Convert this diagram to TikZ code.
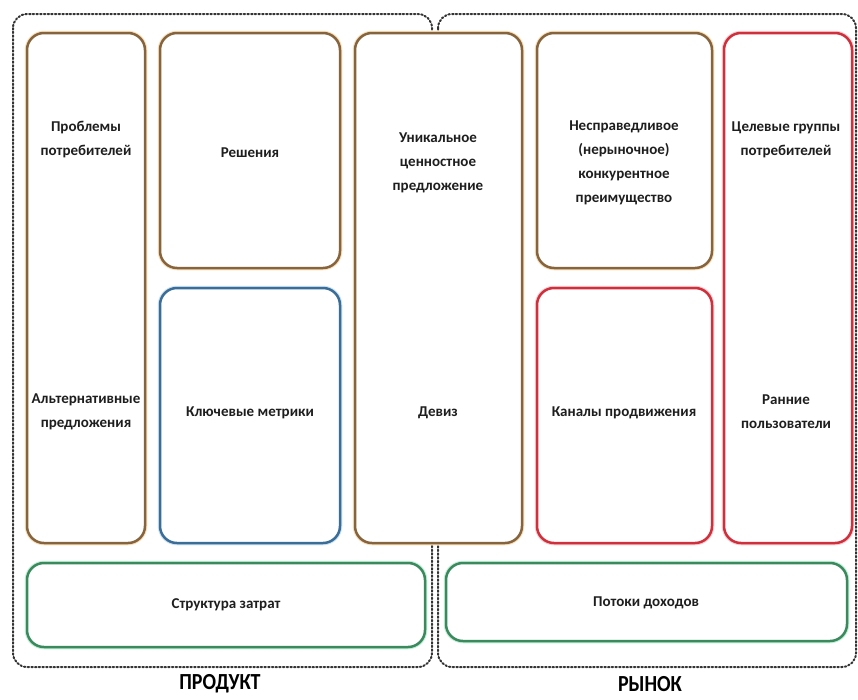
\documentclass[tikz,border=0pt]{standalone}
\usepackage{fontspec}
\setmainfont{Carlito}
\definecolor{brownc}{HTML}{86643E}
\definecolor{browng}{HTML}{FAE0BA}
\definecolor{bluec}{HTML}{3A6E99}
\definecolor{blueg}{HTML}{CFE4F4}
\definecolor{redc}{HTML}{D0303C}
\definecolor{redg}{HTML}{F8CDD1}
\definecolor{greenc}{HTML}{3B8A5E}
\definecolor{greeng}{HTML}{BFF0D6}
\definecolor{txtc}{HTML}{1E1E1E}
\definecolor{dotc}{HTML}{333333}
\tikzset{
  cell/.style={rectangle, rounded corners=17pt, inner sep=0pt, line width=2.5pt, fill=white},
  brownbox/.style={cell, draw=brownc, preaction={draw=browng, line width=4.5pt}},
  bluebox/.style={cell, draw=bluec, preaction={draw=blueg, line width=4.5pt}},
  redbox/.style={cell, draw=redc, preaction={draw=redg, line width=4.5pt}},
  greenbox/.style={cell, draw=greenc, preaction={draw=greeng, line width=4.5pt}},
  lbl/.style={text=txtc, align=center, font=\fontsize{15}{24}\selectfont\bfseries, inner sep=0pt},
  region/.style={draw=dotc, line width=2pt, dash pattern=on 1.5pt off 2.2pt, line cap=round, rounded corners=14pt},
  title/.style={text=black, font=\fontsize{20}{22}\selectfont\bfseries, inner sep=0pt}
}
\begin{document}
\begin{tikzpicture}[x=1pt,y=-1pt]
\fill[white] (0,0) rectangle (858,699);
\useasboundingbox (0,0) rectangle (858,699);

% dotted regions
\draw[region] (13,14) rectangle (432,667);
\draw[region] (438,14) rectangle (856,667);

% column boxes
\node[brownbox, minimum width=118pt, minimum height=510pt] (b1) at (86,288) {};
\node[brownbox, minimum width=180pt, minimum height=235pt] (b2) at (250,150.5) {};
\node[bluebox,  minimum width=180pt, minimum height=255pt] (b3) at (250,415.5) {};
\node[brownbox, minimum width=167pt, minimum height=510pt] (b4) at (438.5,288) {};
\node[brownbox, minimum width=175pt, minimum height=235pt] (b5) at (624.5,150.5) {};
\node[redbox,   minimum width=175pt, minimum height=255pt] (b6) at (624.5,415.5) {};
\node[redbox,   minimum width=128pt, minimum height=510pt] (b7) at (788,288) {};
\node[greenbox, minimum width=398pt, minimum height=84pt] (g1) at (226,605) {};
\node[greenbox, minimum width=401pt, minimum height=78pt] (g2) at (646.5,602) {};

% texts
\node[lbl] (t1) at (86,140) {Проблемы\\потребителей};
\node[lbl] (t2) at (86,412) {Альтернативные\\предложения};
\node[lbl] (t3) at (250,153) {Решения};
\node[lbl] (t4) at (250,413) {Ключевые метрики};
\node[lbl] (t5) at (438,163) {Уникальное\\ценностное\\предложение};
\node[lbl] (t6) at (438,413) {Девиз};
\node[lbl] (t7) at (624,163) {Несправедливое\\(нерыночное)\\конкурентное\\преимущество};
\node[lbl] (t8) at (624,413) {Каналы продвижения};
\node[lbl] (t9) at (786,140) {Целевые группы\\потребителей};
\node[lbl] (t10) at (786,412) {Ранние\\пользователи};
\node[lbl] (t11) at (226,605) {Структура затрат};
\node[lbl] (t12) at (646,603) {Потоки доходов};

% region titles
\node[title] (p1) at (220,684) {\scalebox{1}[1.15]{ПРОДУКТ}};
\node[title] (p2) at (650,684) {\scalebox{1}[1.15]{РЫНОК}};
\end{tikzpicture}
\end{document}
